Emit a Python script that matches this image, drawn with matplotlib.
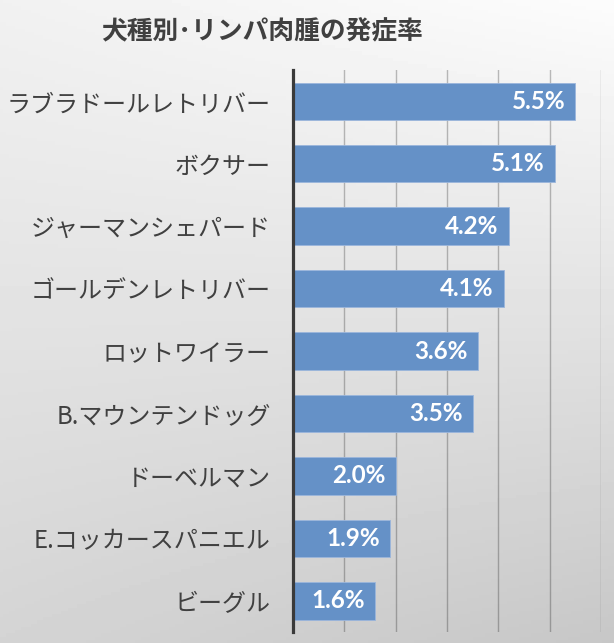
import numpy as np
import matplotlib
matplotlib.use("Agg")
import matplotlib.pyplot as plt

breeds = ["ラブラドールレトリバー", "ボクサー", "ジャーマンシェパード", "ゴールデンレトリバー",
          "ロットワイラー", "B.マウンテンドッグ", "ドーベルマン", "E.コッカースパニエル", "ビーグル"]
rates = [5.5, 5.1, 4.2, 4.1, 3.6, 3.5, 2.0, 1.9, 1.6]
title = "犬種別･リンパ肉腫の発症率"

plt.rcParams['font.family'] = ['Noto Sans CJK JP', 'DejaVu Sans']

fig = plt.figure(figsize=(6.14, 6.43), dpi=100)

# gradient background
bg = fig.add_axes([0, 0, 1, 1], zorder=-5)
tl, tr, bl, br = 241, 252, 212, 199
yy, xx = np.mgrid[0:1:200j, 0:1:200j]
img = (tl * (1 - xx) * (1 - yy) + tr * xx * (1 - yy) + bl * (1 - xx) * yy + br * xx * yy) / 255.0
bg.imshow(img, cmap='gray', vmin=0, vmax=1, aspect='auto', extent=[0, 1, 0, 1], origin='upper')
bg.axis('off')

ax = fig.add_axes([0.477, 0.017, 0.502, 0.874])
ax.patch.set_alpha(0)
y = np.arange(len(breeds))
ax.barh(y, rates, height=0.6, color='#6591c7', edgecolor='#9bb6dc', linewidth=0.6, zorder=3)
ax.set_ylim(len(breeds) - 0.5, -0.5)
ax.set_xlim(0, 6)
ax.set_xticks(np.arange(0, 7, 1))
ax.tick_params(axis='x', length=0, labelbottom=False)
ax.tick_params(axis='y', length=0, pad=16)
ax.set_yticks(y)
ax.set_yticklabels(breeds, fontsize=17.3, color='#404040')
ax.grid(axis='x', color='black', alpha=0.25, linewidth=1.0, zorder=0)
for s in ['top', 'right', 'bottom']:
    ax.spines[s].set_visible(False)
ax.spines['left'].set_color('#3a3a3a')
ax.spines['left'].set_linewidth(2.3)
ax.spines['left'].set_zorder(4)

for yi, v in zip(y, rates):
    ax.text(v - 0.2, yi, f"{v:.1f}%", ha='right', va='center', color='white',
            fontsize=17.5, fontweight='bold', family=['Lato', 'DejaVu Sans'], zorder=5)

fig.text(0.427, 0.951, title, ha='center', va='center', fontsize=18.5, fontweight='bold', color='#404040')

fig.savefig("out.png", dpi=100)
